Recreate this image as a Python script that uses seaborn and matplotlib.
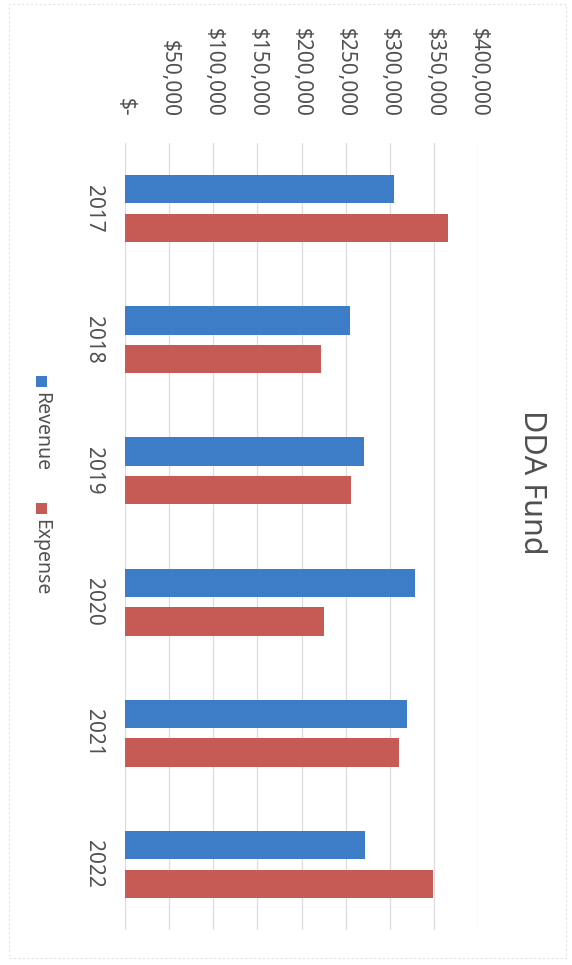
import matplotlib
matplotlib.use("Agg")
import matplotlib.pyplot as plt
from matplotlib.patches import Rectangle
from matplotlib.ticker import FuncFormatter, MultipleLocator
import seaborn as sns
import pandas as pd

# Fund totals by fiscal year
years = ["2017", "2018", "2019", "2020", "2021", "2022"]
revenue = [305000, 255000, 271000, 329000, 320000, 272000]
expense = [366000, 222000, 256000, 225000, 310000, 349000]
series = ["Revenue", "Expense"]
colors = ["#3d7cc6", "#c65a55"]
title = "DDA Fund"

df = pd.DataFrame({
    "Year": years * 2,
    "Amount": revenue + expense,
    "Series": [series[0]] * len(years) + [series[1]] * len(years),
})

sns.set_style("white")
plt.rcParams["font.family"] = ["Noto Sans", "DejaVu Sans"]

W, H = 572, 965
fig = plt.figure(figsize=(W / 100, H / 100), dpi=100)

def fx(px):
    return px / W

def fy(py):
    return 1 - py / H

# plot area: value axis runs left-to-right, years top-to-bottom
left, right, top, bottom = 125, 478, 143, 930
ax = fig.add_axes([fx(left), fy(bottom), fx(right - left), (bottom - top) / H])

sns.barplot(data=df, x="Amount", y="Year", hue="Series", hue_order=series,
            palette=colors, saturation=1, orient="h", width=0.59, gap=0.27,
            linewidth=0, legend=False, ax=ax, zorder=3)

ax.set_xlim(0, 400000)
ax.set_ylim(len(years) - 0.5, -0.5)
ax.xaxis.set_major_locator(MultipleLocator(50000))
ax.xaxis.set_major_formatter(FuncFormatter(lambda v, p: "$-" if v == 0 else f"${v:,.0f}"))
ax.xaxis.tick_top()
ax.grid(axis="x", color="#dcdcdc", linewidth=0.9, zorder=0)
ax.grid(axis="y", visible=False)
for s in ax.spines.values():
    s.set_visible(False)
ax.set_xlabel("")
ax.set_ylabel("")

text_color = "#505050"
ax.tick_params(axis="x", length=0, pad=19, labelsize=15, labelcolor=text_color)
ax.tick_params(axis="y", length=0, pad=15, labelsize=15, labelcolor=text_color)
for lab in ax.get_xticklabels():
    lab.set_rotation(-90)
    lab.set_ha("center")
    lab.set_va("bottom")
for lab in ax.get_yticklabels():
    lab.set_rotation(-90)
    lab.set_va("center")

# title along the right side
fig.text(fx(532), fy(482), title, rotation=-90, ha="center", va="center",
         fontsize=22, color=text_color)

# legend stacked down the left side
leg_x = 41
sq = 11
for name, col, y0 in zip(series, colors, [376, 503]):
    fig.patches.append(Rectangle((fx(leg_x - sq / 2), fy(y0 + sq)), sq / W, sq / H,
                                 transform=fig.transFigure, color=col, lw=0))
    fig.text(fx(leg_x), fy(y0 + sq + 5), name, rotation=-90, ha="center", va="top",
             fontsize=14, color=text_color)

# faint chart border
fig.patches.append(Rectangle((fx(9), fy(958)), (566 - 9) / W, (958 - 4) / H,
                             transform=fig.transFigure, fill=False,
                             edgecolor="#e2e2e2", lw=0.8, linestyle=(0, (2, 2))))

fig.savefig("out.png", dpi=100, facecolor="white")
